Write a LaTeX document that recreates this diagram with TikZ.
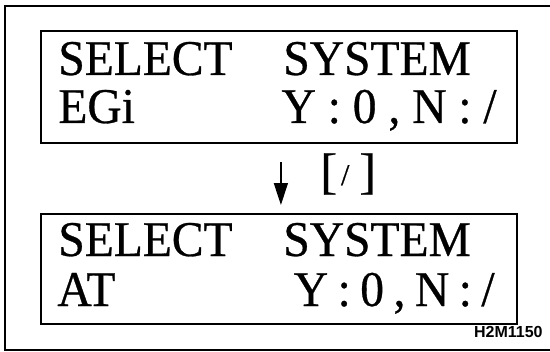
\documentclass[tikz,border=0pt]{standalone}
\usepackage{fontspec}
\setmainfont{Liberation Serif}
\newfontfamily\lcdfont[FakeStretch=0.95,FakeBold=0.6]{Liberation Serif}
\newfontfamily\keyfont[FakeBold=0.6]{Liberation Serif}
\newfontfamily\codefont{Liberation Sans}
\usetikzlibrary{arrows.meta}
\begin{document}
\begin{tikzpicture}[x=0.5pt,y=-0.5pt,
  frame/.style={line width=0.9pt},
  screen/.style={draw,line width=0.9pt,anchor=north west,inner sep=0pt,minimum width=238pt},
  lcd/.style={inner sep=0pt,font=\lcdfont\fontsize{25pt}{25pt}\selectfont},
  keylabel/.style={inner sep=0pt,font=\keyfont\fontsize{25pt}{25pt}\selectfont},
  code/.style={inner sep=0pt,font=\codefont\bfseries\fontsize{8pt}{8pt}\selectfont},
  flow/.style={line width=0.75pt,-{Triangle[length=11pt,width=7pt]}}]
\useasboundingbox (0,0) rectangle (550,352);
\fill[white] (0,0) rectangle (550,352);
% outer frame (right side outside picture)
\draw[frame] (550,6) -- (5,6) -- (5,350) -- (550,350);
% screens
\node[screen,minimum height=56pt] (top) at (40,30) {};
\node[screen,minimum height=55pt] (bot) at (40,213) {};
% top screen text
\node[lcd,anchor=base west] (t1) at (58,75) {SELECT};
\node[lcd,anchor=base west] (t2) at (283,75) {SYSTEM};
\node[lcd,anchor=base west] (t3) at (58,123) {EGi};
\node[lcd,anchor=base east] (t4) at (497,123) {Y : 0 , N : /};
% bottom screen text
\node[lcd,anchor=base west] (b1) at (58,256) {SELECT};
\node[lcd,anchor=base west] (b2) at (283,256) {SYSTEM};
\node[lcd,anchor=base west] (b3) at (57,306) {AT};
\node[lcd,anchor=base east] (b4) at (495,306) {\spaceskip=0.19em Y : 0 , N : /};
% arrow and key label
\draw[flow,shorten <=9pt,shorten >=4pt] ([xshift=1pt]top.south) -- ([xshift=1pt]bot.north);
\node[keylabel,anchor=base west] (key) at (320,188) {[\hspace{2pt}\raisebox{1.5pt}{\fontsize{15pt}{15pt}\selectfont /}\hspace{5pt}]};
% figure code
\node[code,anchor=base east] (fig) at (543,337) {H2M1150};
\end{tikzpicture}
\end{document}
